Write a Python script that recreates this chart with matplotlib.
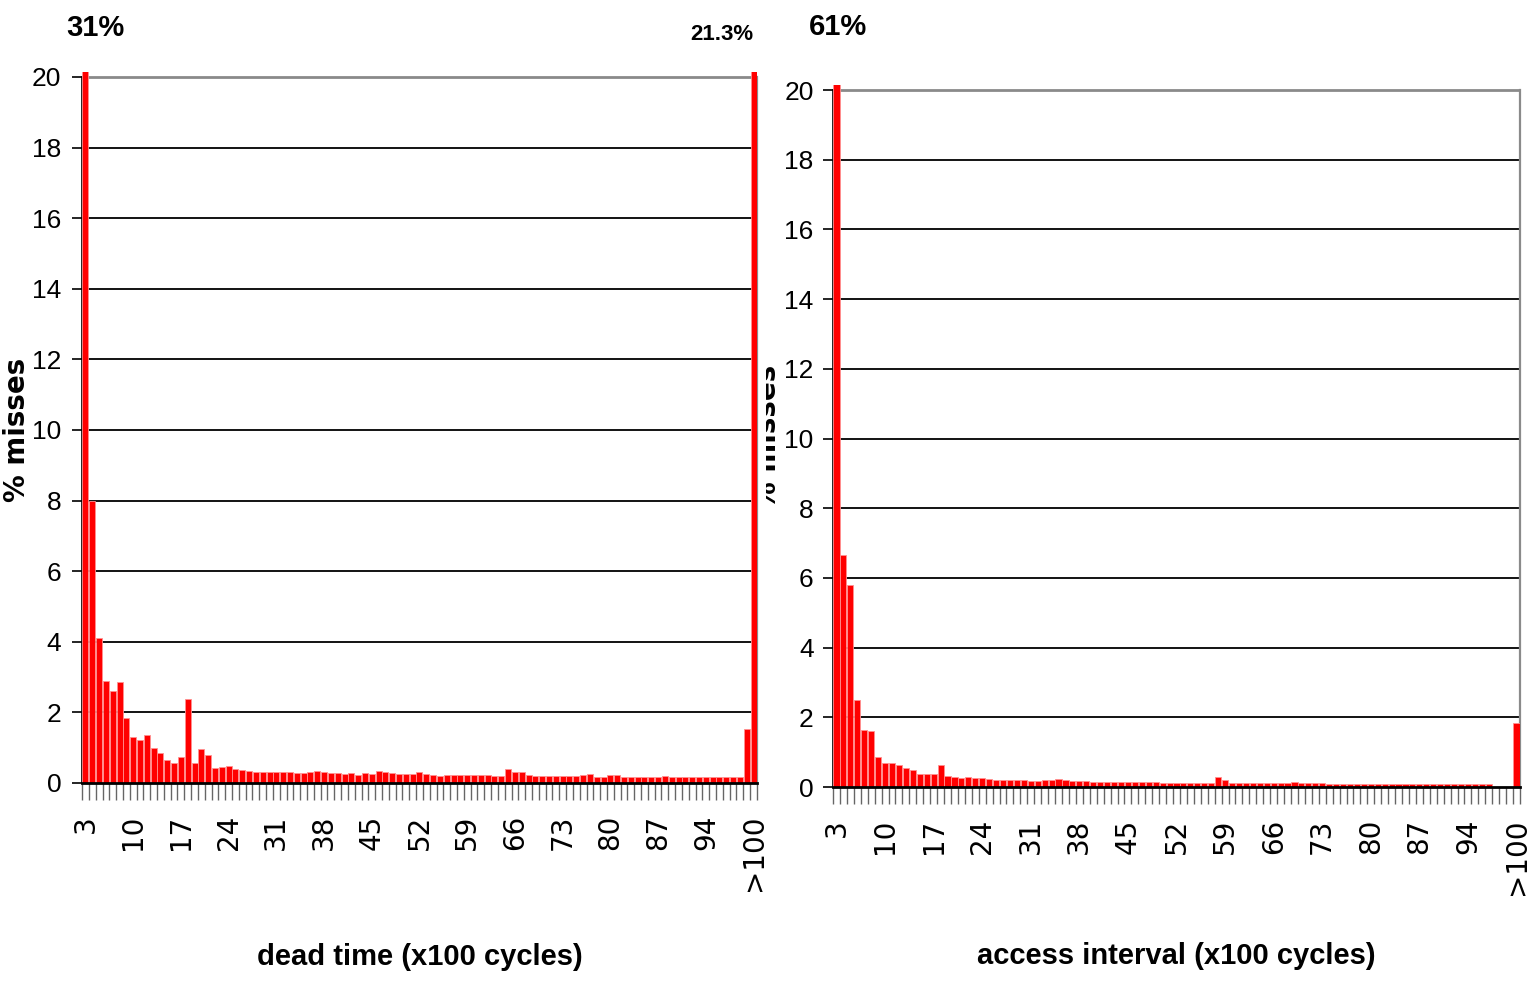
import numpy as np
import matplotlib.pyplot as plt
from matplotlib.patches import Rectangle

# categories: 3..100 then ">100"
categories = [str(c) for c in range(3, 101)] + [">100"]

dead_time = [31, 8.0, 4.1, 2.9, 2.6, 2.85, 1.85, 1.3, 1.23, 1.35,
             1.0, 0.85, 0.66, 0.57, 0.75, 2.38, 0.57, 0.97, 0.78, 0.42,
             0.44, 0.48, 0.40, 0.38, 0.35, 0.32, 0.32, 0.30, 0.31, 0.31,
             0.31, 0.27, 0.27, 0.30, 0.33, 0.30, 0.28, 0.28, 0.26, 0.27,
             0.24, 0.28, 0.26, 0.33, 0.30, 0.28, 0.25, 0.25, 0.25, 0.30,
             0.25, 0.24, 0.21, 0.24, 0.23, 0.24, 0.23, 0.24, 0.23, 0.23,
             0.21, 0.21, 0.40, 0.31, 0.32, 0.23, 0.21, 0.21, 0.21, 0.21,
             0.20, 0.20, 0.20, 0.23, 0.25, 0.18, 0.18, 0.23, 0.23, 0.18,
             0.18, 0.16, 0.16, 0.18, 0.16, 0.19, 0.18, 0.18, 0.18, 0.16,
             0.16, 0.16, 0.16, 0.18, 0.18, 0.18, 0.18, 1.54, 21.3]

access_interval = [61, 6.67, 5.81, 2.50, 1.63, 1.61, 0.85, 0.70, 0.70, 0.62,
                   0.55, 0.48, 0.36, 0.37, 0.36, 0.63, 0.31, 0.30, 0.27, 0.30,
                   0.25, 0.27, 0.22, 0.21, 0.20, 0.21, 0.20, 0.19, 0.17, 0.17,
                   0.19, 0.19, 0.22, 0.20, 0.17, 0.17, 0.17, 0.15, 0.15, 0.15,
                   0.15, 0.13, 0.15, 0.13, 0.13, 0.15, 0.13, 0.11, 0.11, 0.11,
                   0.11, 0.11, 0.11, 0.11, 0.11, 0.30, 0.19, 0.11, 0.11, 0.11,
                   0.11, 0.11, 0.11, 0.11, 0.11, 0.11, 0.14, 0.11, 0.11, 0.11,
                   0.11, 0.09, 0.09, 0.09, 0.09, 0.09, 0.09, 0.09, 0.09, 0.09,
                   0.09, 0.09, 0.09, 0.09, 0.09, 0.09, 0.09, 0.09, 0.09, 0.09,
                   0.09, 0.09, 0.09, 0.09, 0.09, 0, 0, 0, 1.84]

top_labels_left = ["31%", "21.3%"]
top_label_right = "61%"
xlabels = ["dead time (x100 cycles)", "access interval (x100 cycles)"]
ylabel = "% misses"

NARROW = ["Liberation Sans", "DejaVu Sans"]
YMAX = 20.15

fig = plt.figure(figsize=(15.31, 9.86), dpi=100)
ax1 = fig.add_axes([0.0536, 0.2059, 0.4408, 0.7214], zorder=1)
ax2 = fig.add_axes([0.5441, 0.2018, 0.4487, 0.7122], zorder=0)

x = np.arange(len(categories))


def style(ax, values, ypad):
    ax.bar(x, values, width=0.88, color="#ff0000", edgecolor="#ff9090",
           linewidth=0.6, zorder=3)
    ax.set_xlim(-0.5, len(categories) - 0.5)
    ax.set_ylim(0, YMAX)
    ax.set_yticks(range(0, 21, 2))
    ax.set_yticklabels([str(v) for v in range(0, 21, 2)],
                       family=NARROW, fontsize=19)
    for v in range(2, 20, 2):
        ax.axhline(v, color="black", lw=1.3, zorder=1)
    ax.axhline(20, color="#8a8a8a", lw=2, zorder=1)
    ax.spines["top"].set_visible(False)
    ax.spines["right"].set_color("#8a8a8a")
    ax.spines["right"].set_linewidth(1.6)
    ax.spines["right"].set_bounds(0, 20)
    ax.spines["left"].set_bounds(0, 20)
    ax.spines["left"].set_linewidth(1.2)
    ax.spines["bottom"].set_linewidth(2)
    ax.spines["bottom"].set_zorder(4)
    ax.tick_params(axis="y", length=7, width=1.2, pad=ypad)
    # labels every 7 categories, tick marks at category boundaries
    ax.set_xticks(x[::7])
    ax.set_xticklabels(categories[::7], rotation=90, va="top", ha="center",
                       family="DejaVu Sans", fontsize=20)
    ax.set_xticks(np.arange(-0.5, len(categories), 1.0), minor=True)
    ax.tick_params(axis="x", which="major", length=0, pad=23)
    ax.tick_params(axis="x", which="minor", length=12, width=1,
                   color="#666666")


style(ax1, dead_time, 8)
style(ax2, access_interval, 7)

# values that run off the scale
ax1.text(1.4, 21.4, top_labels_left[0], ha="center", va="center",
         family=NARROW, fontsize=21, fontweight="bold")
ax1.text(93.3, 21.2, top_labels_left[1], ha="center", va="center",
         family=NARROW, fontsize=16, fontweight="bold")
ax2.text(0.2, 21.8, top_label_right, ha="center", va="center",
         family=NARROW, fontsize=21, fontweight="bold")

for ax, lab, ly in [(ax1, xlabels[0], -0.2446), (ax2, xlabels[1], -0.241)]:
    ax.set_xlabel(lab, family=NARROW, fontsize=21, fontweight="bold",
                  va="center")
    ax.xaxis.set_label_coords(0.5, ly)

ax1.set_ylabel(ylabel, family="DejaVu Sans", fontsize=20, fontweight="bold",
               va="center")
ax1.yaxis.set_label_coords(-0.097, 0.4963)
ax2.set_ylabel(ylabel, family="DejaVu Sans", fontsize=20, fontweight="bold",
               va="center")
ax2.yaxis.set_label_coords(-0.0946, 0.4984)

# the left panel's background hides part of the right y label
fig.add_artist(Rectangle((0.45, 0), 766 / 1531 - 0.45, 1,
                         transform=fig.transFigure, facecolor="white",
                         edgecolor="none", zorder=0.5))

fig.savefig("out.png", dpi=100, facecolor="white")
